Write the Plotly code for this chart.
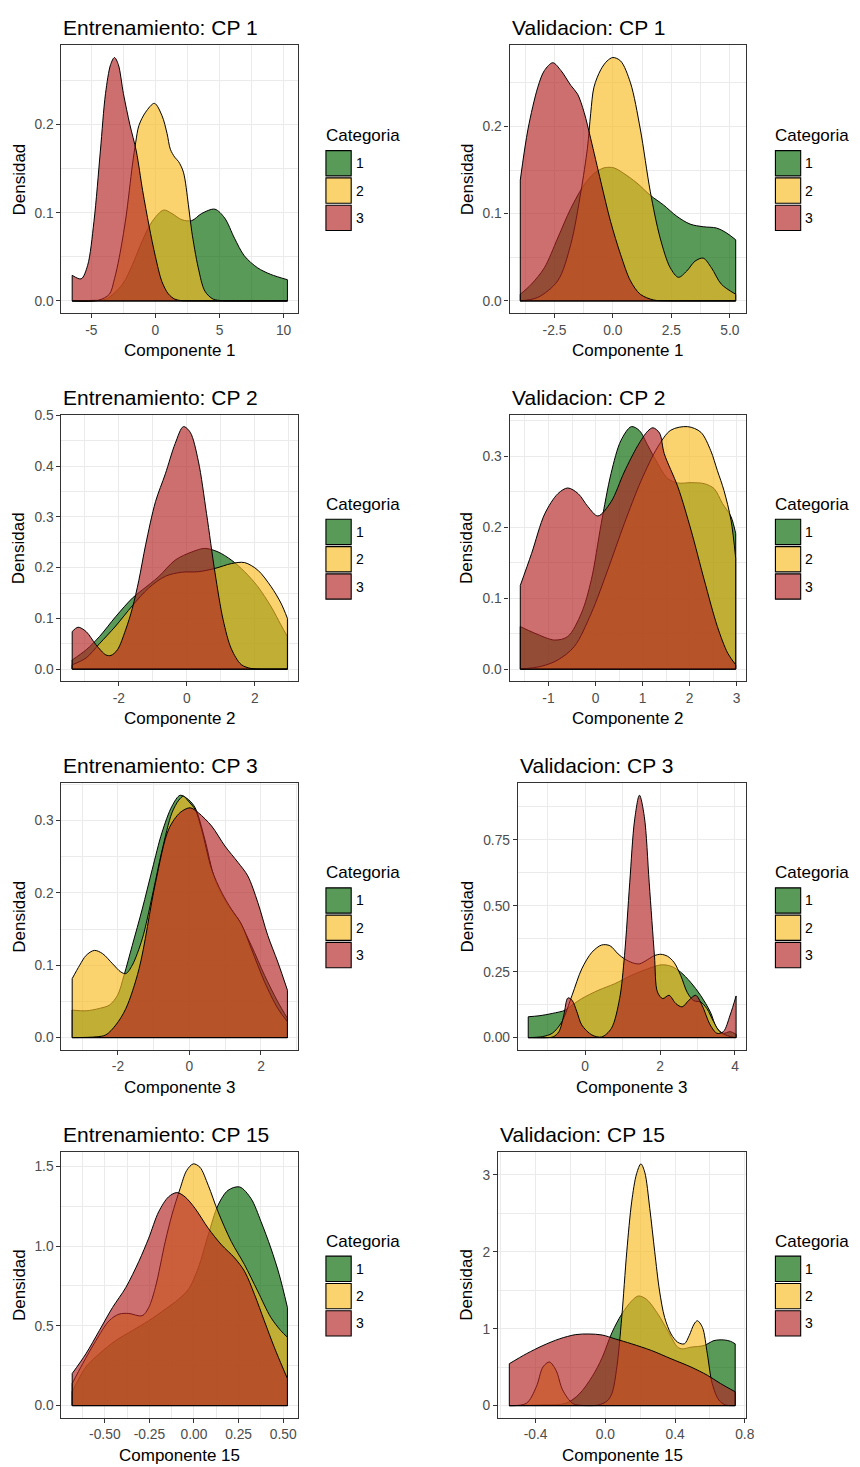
import plotly.graph_objects as go

W, H = 860, 1467
CATEGORIES = ["1", "2", "3"]
FILLS = {"1": "rgba(0,100,0,0.65)", "2": "rgba(248,186,32,0.65)", "3": "rgba(178,34,34,0.65)"}
LEGEND_TITLE = "Categoria"
Y_LABEL = "Densidad"
FONT = "Liberation Sans, Arial, sans-serif"

# ---------------- data ----------------
# Entrenamiento: CP 1
ent1_x1 = [-6.5, -5.0, -3.86, -2.57, -1.8, -1.03, -0.26, 0.64, 1.29, 2.06, 2.83, 3.6, 4.63, 5.4, 6.17, 6.94, 7.97, 9.0, 10.3]
ent1_y1 = [0.0, 0.0005, 0.002, 0.019, 0.041, 0.068, 0.09, 0.103, 0.099, 0.092, 0.091, 0.099, 0.104, 0.094, 0.071, 0.051, 0.0375, 0.030, 0.024]
ent1_x2 = [-6.5, -4.5, -3.6, -3.2, -2.83, -2.31, -1.8, -1.54, -1.29, -0.77, -0.08, 0.51, 0.9, 1.16, 1.5, 1.8, 2.18, 2.57, 2.83, 3.34, 3.86, 4.5, 5.2, 6.0, 10.3]
ent1_y2 = [0.0, 0.0005, 0.0075, 0.025, 0.049, 0.094, 0.154, 0.18, 0.199, 0.214, 0.224, 0.21, 0.19, 0.172, 0.163, 0.158, 0.146, 0.109, 0.079, 0.0375, 0.011, 0.002, 0.0003, 0.0, 0.0]
ent1_x3 = [-6.5, -5.8, -5.3, -4.8, -4.3, -3.9, -3.5, -3.2, -2.9, -2.5, -2.0, -1.5, -1.0, -0.5, 0.0, 0.5, 1.0, 1.5, 2.0, 2.8, 10.3]
ent1_y3 = [0.029, 0.025, 0.040, 0.09, 0.17, 0.235, 0.268, 0.276, 0.268, 0.235, 0.2, 0.17, 0.125, 0.085, 0.05, 0.022, 0.008, 0.002, 0.0003, 0.0, 0.0]

# Validacion: CP 1
val1_x1 = [-3.96, -3.49, -2.93, -2.36, -1.8, -1.23, -0.81, -0.38, 0.04, 0.47, 1.03, 1.6, 2.16, 2.73, 3.3, 3.86, 4.43, 4.85, 5.25]
val1_y1 = [0.0076, 0.019, 0.038, 0.072, 0.106, 0.133, 0.146, 0.1525, 0.1525, 0.146, 0.135, 0.121, 0.11, 0.097, 0.088, 0.085, 0.0835, 0.078, 0.070]
val1_x2 = [-3.96, -3.21, -2.36, -1.8, -1.37, -1.09, -0.95, -0.81, -0.52, -0.25, 0.0, 0.33, 0.75, 1.17, 1.6, 2.02, 2.45, 2.8, 3.15, 3.51, 3.86, 4.21, 4.64, 5.25]
val1_y2 = [0.0, 0.004, 0.023, 0.065, 0.125, 0.175, 0.215, 0.245, 0.265, 0.275, 0.279, 0.275, 0.25, 0.197, 0.125, 0.072, 0.038, 0.027, 0.034, 0.0455, 0.049, 0.038, 0.019, 0.0076]
val1_x3 = [-3.96, -3.63, -3.21, -2.93, -2.57, -2.22, -1.8, -1.51, -1.23, -0.95, -0.52, -0.1, 0.33, 0.75, 1.17, 1.74, 2.3, 3.0, 5.25]
val1_y3 = [0.1385, 0.197, 0.245, 0.264, 0.273, 0.264, 0.247, 0.237, 0.216, 0.186, 0.137, 0.091, 0.053, 0.023, 0.0076, 0.001, 0.0001, 0.0, 0.0]

# Entrenamiento: CP 2
ent2_x1 = [-3.37, -2.96, -2.57, -2.09, -1.6, -1.31, -0.83, -0.34, 0.15, 0.53, 0.92, 1.31, 1.7, 2.09, 2.48, 2.77, 2.96]
ent2_y1 = [0.018, 0.038, 0.064, 0.1035, 0.14, 0.156, 0.182, 0.215, 0.231, 0.238, 0.231, 0.215, 0.192, 0.1625, 0.123, 0.087, 0.064]
ent2_x2 = [-3.37, -2.96, -2.57, -2.09, -1.6, -1.12, -0.63, -0.15, 0.34, 0.83, 1.31, 1.7, 2.09, 2.48, 2.77, 2.96]
ent2_y2 = [0.0085, 0.022, 0.05, 0.085, 0.125, 0.16, 0.183, 0.191, 0.192, 0.1985, 0.208, 0.21, 0.195, 0.1625, 0.13, 0.1]
ent2_x3 = [-3.37, -3.2, -2.96, -2.67, -2.38, -2.23, -2.04, -1.8, -1.6, -1.41, -1.21, -0.92, -0.63, -0.34, -0.1, 0.1, 0.34, 0.58, 0.83, 1.07, 1.31, 1.6, 1.89, 2.2, 2.96]
ent2_y3 = [0.074, 0.0826, 0.074, 0.048, 0.028, 0.027, 0.038, 0.077, 0.12, 0.175, 0.245, 0.33, 0.385, 0.445, 0.478, 0.467, 0.41, 0.307, 0.19, 0.097, 0.04, 0.009, 0.0012, 0.0, 0.0]

# Validacion: CP 2
val2_x1 = [-1.6, -1.29, -0.87, -0.59, -0.3, -0.09, 0.12, 0.33, 0.54, 0.76, 0.93, 1.11, 1.32, 1.53, 1.75, 2.03, 2.31, 2.52, 2.7, 2.88, 2.98]
val2_y1 = [0.06, 0.0506, 0.041, 0.046, 0.079, 0.126, 0.205, 0.276, 0.3225, 0.342, 0.3366, 0.3155, 0.29, 0.269, 0.2625, 0.263, 0.2616, 0.2546, 0.2335, 0.215, 0.191]
val2_x2 = [-1.6, -1.15, -0.8, -0.45, -0.09, 0.26, 0.61, 0.97, 1.32, 1.6, 1.96, 2.24, 2.45, 2.59, 2.73, 2.88, 2.98]
val2_y2 = [0.0, 0.004, 0.013, 0.032, 0.079, 0.14, 0.205, 0.266, 0.313, 0.337, 0.342, 0.334, 0.308, 0.28, 0.252, 0.21, 0.156]
val2_x3 = [-1.6, -1.36, -1.08, -0.8, -0.59, -0.37, -0.16, 0.05, 0.33, 0.61, 0.9, 1.11, 1.22, 1.36, 1.46, 1.75, 2.03, 2.31, 2.59, 2.81, 2.98]
val2_y3 = [0.118, 0.163, 0.219, 0.2475, 0.2555, 0.2475, 0.229, 0.216, 0.236, 0.278, 0.3155, 0.3357, 0.3404, 0.333, 0.304, 0.257, 0.196, 0.126, 0.06, 0.0225, 0.006]

# Entrenamiento: CP 3
ent3_x1 = [-3.28, -2.89, -2.52, -2.24, -2.01, -1.83, -1.6, -1.32, -1.04, -0.77, -0.49, -0.26, -0.03, 0.16, 0.43, 0.71, 1.08, 1.36, 1.73, 2.1, 2.47, 2.74]
ent3_y1 = [0.038, 0.037, 0.0403, 0.0449, 0.0586, 0.0861, 0.1273, 0.1777, 0.2327, 0.2831, 0.3197, 0.3349, 0.3289, 0.3175, 0.274, 0.219, 0.1823, 0.164, 0.1273, 0.0861, 0.0495, 0.0266]
ent3_x2 = [-3.28, -3.07, -2.89, -2.66, -2.43, -2.15, -1.92, -1.78, -1.6, -1.32, -1.04, -0.77, -0.49, -0.3, -0.17, -0.03, 0.16, 0.34, 0.62, 0.9, 1.17, 1.45, 1.73, 2.1, 2.47, 2.74]
ent3_y2 = [0.0815, 0.1, 0.1136, 0.1205, 0.116, 0.102, 0.0907, 0.0884, 0.1, 0.1365, 0.196, 0.258, 0.3106, 0.328, 0.3335, 0.3266, 0.315, 0.2877, 0.2327, 0.2006, 0.1777, 0.157, 0.1228, 0.077, 0.0403, 0.022]
ent3_x3 = [-3.28, -2.61, -2.34, -2.06, -1.78, -1.41, -0.95, -0.58, -0.26, 0.02, 0.25, 0.62, 0.99, 1.36, 1.63, 1.91, 2.19, 2.47, 2.74]
ent3_y3 = [0.0, 0.001, 0.0037, 0.0174, 0.04, 0.095, 0.214, 0.288, 0.311, 0.3175, 0.3106, 0.2923, 0.2648, 0.2419, 0.2235, 0.1869, 0.1411, 0.1044, 0.0655]

# Validacion: CP 3
val3_x1 = [-1.52, -1.23, -0.88, -0.53, -0.35, -0.09, 0.35, 0.79, 1.23, 1.67, 2.02, 2.29, 2.55, 2.81, 3.08, 3.34, 3.52, 3.69, 3.87, 4.03]
val3_y1 = [0.079, 0.0828, 0.0916, 0.1041, 0.1229, 0.148, 0.1794, 0.2044, 0.2358, 0.2609, 0.2759, 0.2709, 0.2483, 0.2107, 0.1605, 0.0978, 0.0351, 0.0163, 0.0226, 0.0125]
val3_x2 = [-1.52, -1.14, -0.88, -0.62, -0.35, -0.09, 0.18, 0.44, 0.66, 0.88, 1.05, 1.27, 1.45, 1.67, 1.85, 2.02, 2.2, 2.37, 2.55, 2.73, 2.9, 3.08, 3.25, 3.43, 3.6, 3.87, 4.03]
val3_y2 = [0.0, 0.0038, 0.0163, 0.0602, 0.1605, 0.2609, 0.3236, 0.3512, 0.3487, 0.3173, 0.2985, 0.2835, 0.2797, 0.296, 0.311, 0.316, 0.3085, 0.286, 0.236, 0.17, 0.14, 0.135, 0.11, 0.06, 0.022, 0.004, 0.0]
val3_x3 = [-1.52, -1.0, -0.85, -0.7, -0.57, -0.46, -0.35, -0.22, -0.09, 0.18, 0.44, 0.7, 0.92, 1.05, 1.19, 1.32, 1.45, 1.58, 1.71, 1.85, 1.93, 2.07, 2.24, 2.42, 2.59, 2.77, 2.95, 3.12, 3.34, 3.52, 3.69, 3.87, 4.03]
val3_y3 = [0.0, 0.0, 0.003, 0.0226, 0.0853, 0.1505, 0.1417, 0.0978, 0.0477, 0.01, 0.0025, 0.0351, 0.148, 0.311, 0.587, 0.8253, 0.9194, 0.8378, 0.587, 0.311, 0.1731, 0.148, 0.1605, 0.1292, 0.1166, 0.1417, 0.1605, 0.1229, 0.0477, 0.0163, 0.0226, 0.0853, 0.158]

# Entrenamiento: CP 15
ent15_x1 = [-0.683, -0.606, -0.531, -0.439, -0.346, -0.254, -0.161, -0.087, -0.031, 0.024, 0.08, 0.135, 0.191, 0.256, 0.32, 0.376, 0.431, 0.478, 0.524]
ent15_y1 = [0.0869, 0.242, 0.325, 0.4076, 0.4697, 0.5318, 0.6042, 0.6663, 0.7283, 0.8628, 1.0697, 1.256, 1.349, 1.37, 1.297, 1.1525, 0.987, 0.821, 0.6145]
ent15_x2 = [-0.683, -0.624, -0.55, -0.476, -0.42, -0.365, -0.291, -0.254, -0.217, -0.161, -0.124, -0.078, -0.041, -0.004, 0.033, 0.08, 0.135, 0.209, 0.283, 0.357, 0.431, 0.487, 0.524]
ent15_y2 = [0.1386, 0.2628, 0.4076, 0.5318, 0.5731, 0.5773, 0.5628, 0.6145, 0.7387, 1.0283, 1.1939, 1.3594, 1.4732, 1.5146, 1.4939, 1.3801, 1.2146, 1.0283, 0.8835, 0.718, 0.5525, 0.4697, 0.4283]
ent15_x3 = [-0.683, -0.606, -0.531, -0.457, -0.383, -0.309, -0.254, -0.198, -0.143, -0.096, -0.05, 0.006, 0.08, 0.154, 0.228, 0.283, 0.339, 0.394, 0.45, 0.496, 0.524]
ent15_y3 = [0.2007, 0.3249, 0.4697, 0.6145, 0.7387, 0.9042, 1.049, 1.2146, 1.3077, 1.3346, 1.3077, 1.2353, 1.1111, 1.0077, 0.9249, 0.8421, 0.6973, 0.5318, 0.3662, 0.2421, 0.1697]

# Validacion: CP 15
val15_x1 = [-0.551, -0.358, -0.226, -0.15, -0.075, -0.019, 0.038, 0.094, 0.151, 0.189, 0.236, 0.302, 0.358, 0.415, 0.443, 0.491, 0.566, 0.623, 0.679, 0.717, 0.745]
val15_y1 = [0.0, 0.01, 0.03, 0.15, 0.38, 0.62, 0.95, 1.189, 1.361, 1.425, 1.382, 1.189, 0.974, 0.76, 0.738, 0.76, 0.781, 0.845, 0.854, 0.837, 0.803]
val15_x2 = [-0.551, -0.453, -0.396, -0.358, -0.321, -0.283, -0.245, -0.189, -0.15, -0.1, -0.04, 0.01, 0.038, 0.066, 0.094, 0.123, 0.151, 0.179, 0.204, 0.226, 0.255, 0.283, 0.311, 0.34, 0.377, 0.415, 0.453, 0.481, 0.509, 0.528, 0.557, 0.585, 0.613, 0.651, 0.689, 0.745]
val15_y2 = [0.0, 0.03, 0.245, 0.502, 0.567, 0.459, 0.202, 0.03, 0.006, 0.0, 0.008, 0.06, 0.159, 0.502, 1.146, 2.004, 2.648, 3.013, 3.142, 3.034, 2.562, 2.004, 1.489, 1.146, 0.931, 0.824, 0.803, 0.91, 1.06, 1.103, 1.017, 0.674, 0.288, 0.073, 0.0086, 0.0]
val15_x3 = [-0.551, -0.453, -0.358, -0.264, -0.17, -0.094, -0.019, 0.057, 0.151, 0.264, 0.377, 0.491, 0.585, 0.66, 0.745]
val15_y3 = [0.545, 0.674, 0.781, 0.867, 0.923, 0.931, 0.918, 0.867, 0.803, 0.717, 0.609, 0.502, 0.395, 0.288, 0.18]

# tick values / labels
ent1_xt, ent1_xl = [-5, 0, 5, 10], ["-5", "0", "5", "10"]
ent1_yt, ent1_yl = [0, 0.1, 0.2], ["0.0", "0.1", "0.2"]
val1_xt, val1_xl = [-2.5, 0, 2.5, 5], ["-2.5", "0.0", "2.5", "5.0"]
val1_yt, val1_yl = [0, 0.1, 0.2], ["0.0", "0.1", "0.2"]
ent2_xt, ent2_xl = [-2, 0, 2], ["-2", "0", "2"]
ent2_yt, ent2_yl = [0, 0.1, 0.2, 0.3, 0.4, 0.5], ["0.0", "0.1", "0.2", "0.3", "0.4", "0.5"]
val2_xt, val2_xl = [-1, 0, 1, 2, 3], ["-1", "0", "1", "2", "3"]
val2_yt, val2_yl = [0, 0.1, 0.2, 0.3], ["0.0", "0.1", "0.2", "0.3"]
ent3_xt, ent3_xl = [-2, 0, 2], ["-2", "0", "2"]
ent3_yt, ent3_yl = [0, 0.1, 0.2, 0.3], ["0.0", "0.1", "0.2", "0.3"]
val3_xt, val3_xl = [0, 2, 4], ["0", "2", "4"]
val3_yt, val3_yl = [0, 0.25, 0.5, 0.75], ["0.00", "0.25", "0.50", "0.75"]
ent15_xt, ent15_xl = [-0.5, -0.25, 0, 0.25, 0.5], ["-0.50", "-0.25", "0.00", "0.25", "0.50"]
ent15_yt, ent15_yl = [0, 0.5, 1.0, 1.5], ["0.0", "0.5", "1.0", "1.5"]
val15_xt, val15_xl = [-0.4, 0, 0.4, 0.8], ["-0.4", "0.0", "0.4", "0.8"]
val15_yt, val15_yl = [0, 1, 2, 3], ["0", "1", "2", "3"]

panels = [
    dict(title="Entrenamiento: CP 1", xlabel="Componente 1",
         curves={"1": (ent1_x1, ent1_y1), "2": (ent1_x2, ent1_y2), "3": (ent1_x3, ent1_y3)},
         xt=ent1_xt, xl=ent1_xl, yt=ent1_yt, yl=ent1_yl, box=(62, 301, 39.5, 308.3), col=0),
    dict(title="Validacion: CP 1", xlabel="Componente 1",
         curves={"1": (val1_x1, val1_y1), "2": (val1_x2, val1_y2), "3": (val1_x3, val1_y3)},
         xt=val1_xt, xl=val1_xl, yt=val1_yt, yl=val1_yl, box=(514.3, 753.5, 39.5, 308.3), col=1),
    dict(title="Entrenamiento: CP 2", xlabel="Componente 2",
         curves={"1": (ent2_x1, ent2_y1), "2": (ent2_x2, ent2_y2), "3": (ent2_x3, ent2_y3)},
         xt=ent2_xt, xl=ent2_xl, yt=ent2_yt, yl=ent2_yl, box=(62, 301, 410.2, 678), col=0),
    dict(title="Validacion: CP 2", xlabel="Componente 2",
         curves={"1": (val2_x1, val2_y1), "2": (val2_x2, val2_y2), "3": (val2_x3, val2_y3)},
         xt=val2_xt, xl=val2_xl, yt=val2_yt, yl=val2_yl, box=(514.3, 753.5, 410.2, 678), col=1),
    dict(title="Entrenamiento: CP 3", xlabel="Componente 3",
         curves={"1": (ent3_x1, ent3_y1), "2": (ent3_x2, ent3_y2), "3": (ent3_x3, ent3_y3)},
         xt=ent3_xt, xl=ent3_xl, yt=ent3_yt, yl=ent3_yl, box=(62, 301, 780.3, 1048), col=0),
    dict(title="Validacion: CP 3", xlabel="Componente 3",
         curves={"1": (val3_x1, val3_y1), "2": (val3_x2, val3_y2), "3": (val3_x3, val3_y3)},
         xt=val3_xt, xl=val3_xl, yt=val3_yt, yl=val3_yl, box=(522.7, 753.5, 780.3, 1048), col=1),
    dict(title="Entrenamiento: CP 15", xlabel="Componente 15",
         curves={"1": (ent15_x1, ent15_y1), "2": (ent15_x2, ent15_y2), "3": (ent15_x3, ent15_y3)},
         xt=ent15_xt, xl=ent15_xl, yt=ent15_yt, yl=ent15_yl, box=(62, 301, 1150.5, 1417.5), col=0),
    dict(title="Validacion: CP 15", xlabel="Componente 15",
         curves={"1": (val15_x1, val15_y1), "2": (val15_x2, val15_y2), "3": (val15_x3, val15_y3)},
         xt=val15_xt, xl=val15_xl, yt=val15_yt, yl=val15_yl, box=(502.7, 753.5, 1150.5, 1417.5), col=1),
]

LEGEND_X = [328, 781.7]
YTITLE_X = [19.5, 471.5]


def px(xp):
    return xp / W


def py(yp):
    return 1 - yp / H


def minor_vals(ticks, lo, hi):
    step = ticks[1] - ticks[0]
    cand = [ticks[0] - step / 2] + [(a + b) / 2 for a, b in zip(ticks[:-1], ticks[1:])] + [ticks[-1] + step / 2]
    return [v for v in cand if lo <= v <= hi]


fig = go.Figure()
annotations = []
shapes = []

for i, p in enumerate(panels, start=1):
    sfx = "" if i == 1 else str(i)
    xa, ya = "x" + sfx, "y" + sfx
    for cat in CATEGORIES:
        xs, ys = p["curves"][cat]
        fig.add_trace(go.Scatter(
            x=xs, y=ys, mode="lines", fill="tozeroy", fillcolor=FILLS[cat],
            line=dict(color="black", width=1, shape="spline", smoothing=0.9),
            xaxis=xa, yaxis=ya, showlegend=False, hoverinfo="skip"))
        fig.add_trace(go.Scatter(
            x=[xs[0], xs[0], xs[-1], xs[-1]], y=[ys[0], 0, 0, ys[-1]], mode="lines",
            line=dict(color="black", width=1),
            xaxis=xa, yaxis=ya, showlegend=False, hoverinfo="skip"))

    allx = [v for c in CATEGORIES for v in p["curves"][c][0]]
    ally = [v for c in CATEGORIES for v in p["curves"][c][1]]
    xmin, xmax = min(allx), max(allx)
    span = xmax - xmin
    xr = [xmin - 0.05 * span, xmax + 0.05 * span]
    ymax = max(ally)
    yr = [-0.05 * ymax, 1.05 * ymax]

    l, r, t, b = p["box"]
    common = dict(showline=True, mirror=True, linecolor="#333333", linewidth=1.1,
                  ticks="outside", ticklen=4, tickwidth=1.1, tickcolor="#333333",
                  showgrid=True, gridcolor="#EBEBEB", gridwidth=1.2, zeroline=False,
                  tickfont=dict(family=FONT, size=13.8, color="#4D4D4D"),
                  tickmode="array", fixedrange=True)
    fig.layout["xaxis" + sfx] = dict(
        common, domain=[px(l), px(r)], range=xr, anchor=ya,
        tickvals=p["xt"], ticktext=p["xl"],
        minor=dict(showgrid=True, gridcolor="#EBEBEB", gridwidth=0.6,
                   tickmode="array", tickvals=minor_vals(p["xt"], xr[0], xr[1])))
    fig.layout["yaxis" + sfx] = dict(
        common, domain=[py(b), py(t)], range=yr, anchor=xa,
        tickvals=p["yt"], ticktext=p["yl"],
        minor=dict(showgrid=True, gridcolor="#EBEBEB", gridwidth=0.6,
                   tickmode="array", tickvals=minor_vals(p["yt"], yr[0], yr[1])))

    # title
    annotations.append(dict(text=p["title"], xref="paper", yref="paper", x=px(l), y=py(t - 17.5),
                            xanchor="left", yanchor="middle", showarrow=False,
                            font=dict(family=FONT, size=21, color="black")))
    # x axis title
    annotations.append(dict(text=p["xlabel"], xref="paper", yref="paper", x=px((l + r) / 2), y=py(b + 37.5),
                            xanchor="center", yanchor="middle", showarrow=False,
                            font=dict(family=FONT, size=17, color="black")))
    # y axis title
    annotations.append(dict(text=Y_LABEL, xref="paper", yref="paper", x=px(YTITLE_X[p["col"]]), y=py((t + b) / 2),
                            xanchor="center", yanchor="middle", textangle=-90, showarrow=False,
                            font=dict(family=FONT, size=17, color="black")))
    # legend
    lx = LEGEND_X[p["col"]]
    cy = (t + b) / 2
    annotations.append(dict(text=LEGEND_TITLE, xref="paper", yref="paper", x=px(lx - 1), y=py(cy - 43.8),
                            xanchor="left", yanchor="middle", showarrow=False,
                            font=dict(family=FONT, size=17, color="black")))
    for k, cat in enumerate(CATEGORIES):
        kc = cy - 16 + 27.4 * k
        shapes.append(dict(type="rect", xref="paper", yref="paper",
                           x0=px(lx + 1), x1=px(lx + 26.5), y0=py(kc + 12.7), y1=py(kc - 12.7),
                           fillcolor=FILLS[cat], line=dict(color="black", width=1.1)))
        annotations.append(dict(text=cat, xref="paper", yref="paper", x=px(lx + 29), y=py(kc),
                                xanchor="left", yanchor="middle", showarrow=False,
                                font=dict(family=FONT, size=14, color="black")))

fig.update_layout(width=W, height=H, margin=dict(l=0, r=0, t=0, b=0),
                  paper_bgcolor="white", plot_bgcolor="white",
                  showlegend=False, annotations=annotations, shapes=shapes,
                  font=dict(family=FONT))

fig.write_html("out.html")
